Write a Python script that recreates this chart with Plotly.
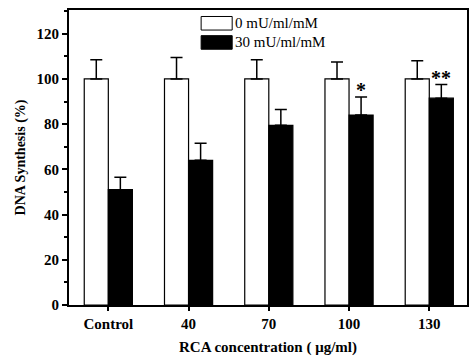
import plotly.graph_objects as go

categories = ["Control", "40", "70", "100", "130"]
ctrl_vals = [100, 100, 100, 100, 100]
ctrl_err = [8.5, 9.5, 8.5, 7.5, 8.0]
treat_vals = [51, 64, 79.5, 84, 91.5]
treat_err = [5.5, 7.5, 7.0, 8.0, 6.0]
signif = ["", "", "", "*", "**"]
legend_names = ["0 mU/ml/mM", "30 mU/ml/mM"]

FONT = "Liberation Serif"

fig = go.Figure()
fig.add_trace(go.Bar(
    x=categories, y=ctrl_vals, name=legend_names[0],
    marker=dict(color="white", line=dict(color="black", width=1.2)),
    error_y=dict(type="data", array=ctrl_err, arrayminus=[0]*5, symmetric=False,
                 color="black", thickness=1.5, width=6),
    showlegend=False,
))
fig.add_trace(go.Bar(
    x=categories, y=treat_vals, name=legend_names[1],
    marker=dict(color="black", line=dict(color="black", width=1.2)),
    error_y=dict(type="data", array=treat_err, arrayminus=[0]*5, symmetric=False,
                 color="black", thickness=1.5, width=6),
    showlegend=False,
))

for i, (c, v, e, s) in enumerate(zip(categories, treat_vals, treat_err, signif)):
    if s:
        fig.add_annotation(x=i, y=v + e, text="<b>" + s + "</b>", showarrow=False,
                           xshift=12, yanchor="bottom", yshift=-6,
                           font=dict(family=FONT, size=20, color="black"))

# custom legend
leg_y = [0.955, 0.89]
leg_fill = ["white", "black"]
for name, yy, fc in zip(legend_names, leg_y, leg_fill):
    fig.add_shape(type="rect", xref="paper", yref="paper",
                  x0=0.332, x1=0.41, y0=yy - 0.023, y1=yy + 0.023,
                  fillcolor=fc, line=dict(color="black", width=1))
    fig.add_annotation(xref="paper", yref="paper", x=0.412, y=yy, text=name,
                       showarrow=False, xanchor="left", yanchor="middle",
                       font=dict(family=FONT, size=15, color="black"))

fig.update_layout(
    width=471, height=361,
    margin=dict(l=69, r=2, t=10, b=56),
    paper_bgcolor="white", plot_bgcolor="white",
    barmode="group", bargap=0.4, bargroupgap=0,
    font=dict(family=FONT, color="black"),
)
fig.update_xaxes(
    type="category", range=[-0.49, 4.47],
    showline=True, linecolor="black", linewidth=2, mirror=True,
    ticks="outside", ticklen=4, tickwidth=1.5, tickcolor="black",
    tickfont=dict(family=FONT, size=15, color="black", weight="bold"),
    title=dict(text="<b>RCA concentration ( μg/ml)</b>", font=dict(family=FONT, size=15), standoff=10),
    showgrid=False,
)
fig.update_yaxes(
    range=[0, 130.5], tickvals=[0, 20, 40, 60, 80, 100, 120],
    showline=True, linecolor="black", linewidth=2, mirror=True,
    ticks="outside", ticklen=5, tickwidth=1.5, tickcolor="black",
    minor=dict(tickvals=[10, 30, 50, 70, 90, 110, 130], ticks="outside", ticklen=3, tickcolor="black"),
    tickfont=dict(family=FONT, size=15, color="black", weight="bold"),
    title=dict(text="<b>DNA Synthesis (%)</b>", font=dict(family=FONT, size=14), standoff=8),
    showgrid=False, zeroline=False,
)

fig.write_html("out.html")
